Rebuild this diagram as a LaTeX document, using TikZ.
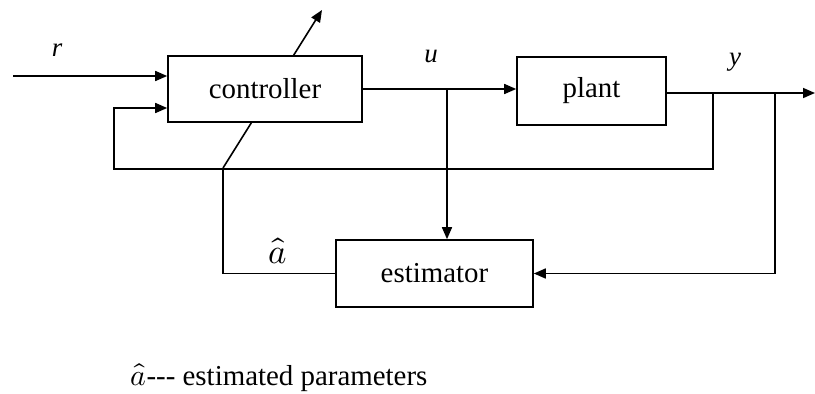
\documentclass[tikz,border=0pt]{standalone}
\usepackage{unicode-math}
\setmainfont{Liberation Serif}
\setmathfont{Latin Modern Math}
\usetikzlibrary{arrows.meta,calc}
\begin{document}
\begin{tikzpicture}[x=1bp,y=-1bp,
  line width=1.6bp,
  blk/.style={draw,line width=1.6bp,fill=white,inner sep=0pt,font=\fontsize{29}{34}\selectfont},
  sig/.style={-{Triangle[length=12bp,width=10bp]}},
  lbl/.style={font=\fontsize{27}{32}\selectfont\itshape,inner sep=0pt},
  txt/.style={inner sep=0pt,font=\fontsize{29}{34}\selectfont}]
\useasboundingbox (0,0) rectangle (815,393);
% boxes (plant, estimator)
\node[blk,minimum width=149bp,minimum height=68bp] (plant) at (591.5,91) {plant};
\node[blk,minimum width=197bp,minimum height=67bp] (est) at (434.5,273.5) {estimator};
% coordinates
\coordinate (rin) at (13,76);
\coordinate (fbtap) at (713,93);
\coordinate (fbl) at (114,169);
\coordinate (utap) at (447,90);
\coordinate (ytap) at (775,93);
\coordinate (yout) at (815,93);
\coordinate (ahc) at (223,168);
\coordinate (tip) at (322,10);
% adaptation arrow through controller (drawn beneath it)
\draw[sig] (ahc) -- (tip);
% controller on top
\node[blk,minimum width=194bp,minimum height=66bp] (ctrl) at (265,89) {controller};
% signals
\draw[sig] (rin) -- (rin -| ctrl.west);
\draw[sig] (fbtap) |- (fbl) |- ($(ctrl.west)+(0,19)$);
\draw[sig] (ctrl.east) -- (ctrl.east -| plant.west);
\draw[sig] (utap) -- (utap |- est.north);
\draw[sig] (plant.east |- yout) -- (yout);
\draw[sig] (ytap) |- (est.east);
\draw (est.west) -| (ahc);
% labels
\node[lbl] (lr) at (57,50) {r};
\node[lbl] (lu) at (431,56) {u};
\node[lbl] (ly) at (735,62) {y};
\node[inner sep=0pt,font=\fontsize{35}{40}\selectfont] (lah) at (278,251) {$\hat{a}$};
\node[inner sep=0pt,anchor=base west,font=\fontsize{30}{35}\selectfont] (legend) at (130,385) {$\hat{a}${\fontsize{29}{34}\selectfont{-}{-}{-} estimated parameters}};
\end{tikzpicture}
\end{document}
